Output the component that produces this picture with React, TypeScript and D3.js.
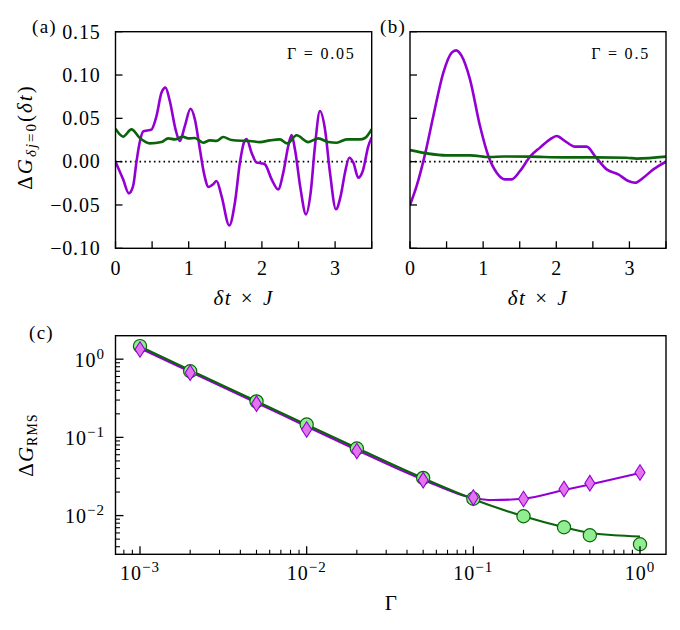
import React from 'react';
import * as d3 from 'd3';

const W = 680, H = 630;
const FONT = "'Liberation Serif', 'DejaVu Serif', serif";
const PURPLE = '#9400d3';
const GREEN = '#0b640b';
const CIRCLE_FILL = '#90ee90';
const DIAMOND_FILL = '#e274ee';

// ---- Panel (a): Gamma = 0.05 ----
const aPurpleT = [0, 0.104, 0.182, 0.241, 0.287, 0.33, 0.38, 0.43, 0.49, 0.56, 0.629, 0.683, 0.742, 0.82, 0.879, 0.947, 1.025, 1.084, 1.153, 1.212, 1.271, 1.335, 1.38, 1.449, 1.554, 1.631, 1.7, 1.754, 1.79, 1.859, 1.928, 1.996, 2.04, 2.133, 2.223, 2.292, 2.36, 2.406, 2.452, 2.529, 2.602, 2.666, 2.725, 2.793, 2.862, 2.93, 3.012, 3.076, 3.135, 3.194, 3.249, 3.317, 3.377, 3.454, 3.5];
const aPurpleV = [0, -0.0204, -0.0366, -0.028, 0, 0.022, 0.035, 0.036, 0.037, 0.0527, 0.0797, 0.0854, 0.07, 0.0373, 0.0238, 0.041, 0.061, 0.049, 0.0142, -0.0147, -0.0293, -0.026, -0.0224, -0.0397, -0.0736, -0.0474, -0.001, 0.0219, 0.0262, 0.0104, -0.001, -0.002, -0.003, -0.0204, -0.032, -0.0127, 0.018, 0.0307, 0.014, -0.032, -0.0608, -0.0358, 0.018, 0.0584, 0.0373, -0.0127, -0.055, -0.0397, -0.0127, 0.0046, -0.001, -0.0185, -0.011, 0.018, 0.028];
const aGreenT = [0, 0.104, 0.218, 0.332, 0.469, 0.629, 0.719, 0.81, 0.916, 0.993, 1.084, 1.198, 1.289, 1.38, 1.471, 1.586, 1.745, 1.836, 1.973, 2.11, 2.246, 2.346, 2.474, 2.633, 2.77, 2.907, 3.021, 3.158, 3.34, 3.408, 3.5];
const aGreenV = [0.038, 0.0289, 0.0373, 0.0273, 0.0211, 0.0226, 0.0269, 0.0257, 0.0289, 0.0269, 0.0273, 0.0219, 0.0246, 0.024, 0.0284, 0.025, 0.024, 0.0238, 0.0226, 0.0246, 0.0257, 0.0211, 0.0304, 0.0226, 0.0269, 0.0226, 0.0219, 0.0257, 0.0257, 0.0273, 0.0375];

// ---- Panel (b): Gamma = 0.5 ----
const bPurpleT = [0, 0.091, 0.205, 0.319, 0.456, 0.57, 0.629, 0.706, 0.82, 0.957, 1.071, 1.185, 1.299, 1.39, 1.504, 1.641, 1.777, 1.914, 2.005, 2.119, 2.256, 2.416, 2.529, 2.689, 2.848, 2.985, 3.076, 3.19, 3.327, 3.5];
const bPurpleV = [-0.05, -0.028, 0.0084, 0.0527, 0.1028, 0.1259, 0.1285, 0.122, 0.095, 0.0411, 0.0065, -0.0127, -0.0204, -0.0204, -0.0108, 0.0058, 0.0162, 0.0257, 0.0296, 0.0238, 0.0173, 0.0173, 0.0065, -0.0089, -0.0147, -0.0224, -0.0243, -0.0185, -0.0089, 0.0];
const bGreenT = [0, 0.228, 0.502, 0.82, 1.094, 1.28, 1.64, 2.1, 2.55, 2.96, 3.1, 3.5];
const bGreenV = [0.0134, 0.0096, 0.0073, 0.0073, 0.0053, 0.006, 0.0058, 0.005, 0.005, 0.0046, 0.0035, 0.0058];

const yTicksAB = [-0.10, -0.05, 0.0, 0.05, 0.10, 0.15];
const xTicksAB = [0, 0.5, 1, 1.5, 2, 2.5, 3, 3.5];
const xLabelsAB = [0, 1, 2, 3];

// ---- Panel (c) ----
const gammaPts = [0.001, 0.002, 0.005, 0.01, 0.02, 0.05, 0.1, 0.2, 0.35, 0.5, 1.0];
const rmsCircles = [1.47, 0.70, 0.288, 0.146, 0.072, 0.0303, 0.0164, 0.0098, 0.0071, 0.0056, 0.0043];
const rmsDiamonds = [1.33, 0.67, 0.27, 0.126, 0.067, 0.0284, 0.017, 0.0163, 0.0219, 0.026, 0.0355];
const greenCurveG = [0.001, 0.002, 0.005, 0.01, 0.02, 0.05, 0.1, 0.2, 0.35, 0.5, 0.7, 1.0];
const greenCurveV = [1.45, 0.72, 0.29, 0.145, 0.073, 0.030, 0.0162, 0.0098, 0.0071, 0.0060, 0.0056, 0.0054];
const purpleCurveG = [0.001, 0.002, 0.005, 0.01, 0.02, 0.05, 0.1, 0.13, 0.2, 0.35, 0.5, 1.0];
const purpleCurveV = [1.38, 0.69, 0.277, 0.138, 0.069, 0.0288, 0.0168, 0.0158, 0.0164, 0.0212, 0.025, 0.035];
const xDecadesC = [-3, -2, -1, 0];
const yDecadesC = [-2, -1, 0];

const A = { l: 115.5, r: 371.7, t: 31.7, b: 248.3 };
const B = { l: 410, r: 666, t: 31.7, b: 248.3 };
const C = { l: 115.5, r: 666, t: 335.7, b: 554.3 };

const fmt = d3.format('.2f');
const zip = (xs: number[], ys: number[]) => xs.map((x, i) => [x, ys[i]] as [number, number]);

function TimePanel(props: any) {
  const { box, id, pt, pv, gt, gv, gammaLabel, yLabels, panelLabel, labelX } = props;
  const x = d3.scaleLinear().domain([0, 3.5]).range([box.l, box.r]);
  const y = d3.scaleLinear().domain([-0.10, 0.15]).range([box.b, box.t]);
  const line = d3.line<[number, number]>().x(d => x(d[0])).y(d => y(d[1])).curve(d3.curveMonotoneX);
  const tl = 7;
  return (
    <g>
      <defs>
        <clipPath id={id}>
          <rect x={box.l} y={box.t} width={box.r - box.l} height={box.b - box.t} />
        </clipPath>
      </defs>
      <g clipPath={`url(#${id})`}>
        <line x1={box.l} x2={box.r} y1={y(0)} y2={y(0)} stroke="#000" strokeWidth={1.6} strokeDasharray="1.6,3.2" />
        <path d={line(zip(pt, pv)) || ''} fill="none" stroke={PURPLE} strokeWidth={2.6} />
        <path d={line(zip(gt, gv)) || ''} fill="none" stroke={GREEN} strokeWidth={2.6} />
      </g>
      {yTicksAB.map(v => (
        <line key={'yt' + v} x1={box.l} x2={box.l + tl} y1={y(v)} y2={y(v)} stroke="#000" strokeWidth={1.3} />
      ))}
      {xTicksAB.map(v => (
        <line key={'xt' + v} x1={x(v)} x2={x(v)} y1={box.b} y2={box.b - tl} stroke="#000" strokeWidth={1.3} />
      ))}
      <rect x={box.l} y={box.t} width={box.r - box.l} height={box.b - box.t} fill="none" stroke="#000" strokeWidth={1.4} />
      {yLabels && yTicksAB.map(v => (
        <text key={'yl' + v} x={box.l - 15} y={y(v) + 6.8} textAnchor="end" fontSize={20} letterSpacing={0.8}>
          {fmt(v)}
        </text>
      ))}
      {xLabelsAB.map(v => (
        <text key={'xl' + v} x={x(v)} y={275} textAnchor="middle" fontSize={20}>{v}</text>
      ))}
      <text x={(box.l + box.r) / 2} y={305} textAnchor="middle" fontSize={21} letterSpacing={1.5} wordSpacing={2}>
        <tspan fontStyle="italic">δt</tspan>
        <tspan> × </tspan>
        <tspan fontStyle="italic">J</tspan>
      </text>
      <text x={box.r - 16} y={58.5} textAnchor="end" fontSize={16} letterSpacing={1.8}>{gammaLabel}</text>
      <text x={labelX} y={33} fontSize={19} letterSpacing={1.3}>{panelLabel}</text>
    </g>
  );
}

function RmsPanel() {
  const x = d3.scaleLog().domain([Math.pow(10, -3.147), Math.pow(10, 0.156)]).range([C.l, C.r]);
  const y = d3.scaleLog().domain([Math.pow(10, -2.495), Math.pow(10, 0.30)]).range([C.b, C.t]);
  const line = d3.line<[number, number]>().x(d => x(d[0])).y(d => y(d[1])).curve(d3.curveMonotoneX);
  const [x0, x1] = x.domain();
  const [y0, y1] = y.domain();
  const minorX: number[] = [];
  for (let k = -4; k <= 0; k++) for (let m = 2; m <= 9; m++) {
    const v = m * Math.pow(10, k);
    if (v > x0 && v < x1) minorX.push(v);
  }
  const minorY: number[] = [];
  for (let k = -3; k <= 0; k++) for (let m = 2; m <= 9; m++) {
    const v = m * Math.pow(10, k);
    if (v > y0 && v < y1) minorY.push(v);
  }
  const diamond = 'M0,-7.8L5,0L0,7.8L-5,0Z';
  const sup = (k: number) => (k < 0 ? '−' + Math.abs(k) : String(k));
  return (
    <g>
      <defs>
        <clipPath id="clipc">
          <rect x={C.l} y={C.t} width={C.r - C.l} height={C.b - C.t} />
        </clipPath>
      </defs>
      <g clipPath="url(#clipc)">
        <path d={line(zip(purpleCurveG, purpleCurveV)) || ''} fill="none" stroke={PURPLE} strokeWidth={2.1} />
        <path d={line(zip(greenCurveG, greenCurveV)) || ''} fill="none" stroke={GREEN} strokeWidth={2.1} />
      </g>
      {gammaPts.map((g, i) => (
        <circle key={'c' + i} cx={x(g)} cy={y(rmsCircles[i])} r={6.6} fill={CIRCLE_FILL} stroke={GREEN} strokeWidth={1.2} />
      ))}
      {gammaPts.map((g, i) => (
        <path key={'d' + i} d={diamond} transform={`translate(${x(g)},${y(rmsDiamonds[i])})`} fill={DIAMOND_FILL} stroke={PURPLE} strokeWidth={1.1} />
      ))}
      {xDecadesC.map(k => (
        <line key={'xM' + k} x1={x(Math.pow(10, k))} x2={x(Math.pow(10, k))} y1={C.b} y2={C.b - 8} stroke="#000" strokeWidth={1.3} />
      ))}
      {minorX.map((v, i) => (
        <line key={'xm' + i} x1={x(v)} x2={x(v)} y1={C.b} y2={C.b - 4.5} stroke="#000" strokeWidth={1.1} />
      ))}
      {yDecadesC.map(k => (
        <line key={'yM' + k} x1={C.l} x2={C.l + 8} y1={y(Math.pow(10, k))} y2={y(Math.pow(10, k))} stroke="#000" strokeWidth={1.3} />
      ))}
      {minorY.map((v, i) => (
        <line key={'ym' + i} x1={C.l} x2={C.l + 4.5} y1={y(v)} y2={y(v)} stroke="#000" strokeWidth={1.1} />
      ))}
      <rect x={C.l} y={C.t} width={C.r - C.l} height={C.b - C.t} fill="none" stroke="#000" strokeWidth={1.4} />
      {xDecadesC.map(k => (
        <text key={'xl' + k} x={x(Math.pow(10, k))} y={579.5} textAnchor="middle" fontSize={20} letterSpacing={1}>
          <tspan>10</tspan>
          <tspan fontSize={15} dy={-8}>{sup(k)}</tspan>
        </text>
      ))}
      {yDecadesC.map(k => (
        <text key={'yl' + k} x={105} y={y(Math.pow(10, k)) + 7.5} textAnchor="end" fontSize={20} letterSpacing={1}>
          <tspan>10</tspan>
          <tspan fontSize={15} dy={-8}>{sup(k)}</tspan>
        </text>
      ))}
      <text x={(C.l + C.r) / 2} y={610} textAnchor="middle" fontSize={21}>Γ</text>
      <text transform={`translate(33,${(C.t + C.b) / 2}) rotate(-90)`} textAnchor="middle" fontSize={21} letterSpacing={1}>
        <tspan>Δ</tspan>
        <tspan fontStyle="italic">G</tspan>
        <tspan fontSize={14} dy={4}>RMS</tspan>
      </text>
      <text x={29} y={339} fontSize={19} letterSpacing={1.3}>(c)</text>
    </g>
  );
}

export default function App() {
  return (
    <svg width={W} height={H} viewBox={`0 0 ${W} ${H}`} fontFamily={FONT}
      style={{ position: 'absolute', left: 0, top: 0, background: '#fff' }}>
      <rect x={0} y={0} width={W} height={H} fill="#fff" />
      <TimePanel box={A} id="clipa" pt={aPurpleT} pv={aPurpleV} gt={aGreenT} gv={aGreenV}
        gammaLabel="Γ = 0.05" yLabels={true} panelLabel="(a)" labelX={32} />
      <TimePanel box={B} id="clipb" pt={bPurpleT} pv={bPurpleV} gt={bGreenT} gv={bGreenV}
        gammaLabel="Γ = 0.5" yLabels={false} panelLabel="(b)" labelX={380} />
      <text transform={`translate(32,${(A.t + A.b) / 2 - 3}) rotate(-90)`} textAnchor="middle" fontSize={21} letterSpacing={2}>
        <tspan>Δ</tspan>
        <tspan fontStyle="italic">G</tspan>
        <tspan fontSize={15} dy={4} fontStyle="italic">δj</tspan>
        <tspan fontSize={15}>=0</tspan>
        <tspan dy={-4}>(</tspan>
        <tspan fontStyle="italic">δt</tspan>
        <tspan>)</tspan>
      </text>
      <RmsPanel />
    </svg>
  );
}
